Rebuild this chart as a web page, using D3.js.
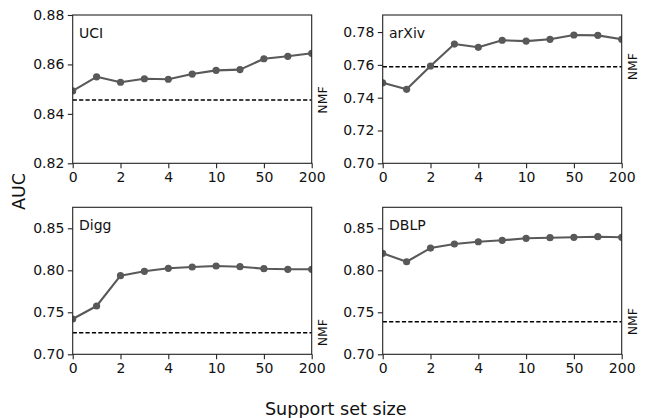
<!DOCTYPE html>
<html>
<head>
<meta charset="utf-8">
<script src="https://cdn.jsdelivr.net/npm/d3@7"></script>
<style>
  html, body { margin: 0; padding: 0; background: #fff; }
  svg { display: block; font-family: "DejaVu Sans", sans-serif; }
</style>
</head>
<body>
<svg id="chart" width="646" height="418"></svg>
<script>
// ---- data ----
const supportSizes = ["0", "1", "2", "3", "4", "5", "10", "20", "50", "100", "200"];
const shownTickLabels = ["0", "2", "4", "10", "50", "200"];
const datasets = ["UCI", "arXiv", "Digg", "DBLP"];
const uciAUC   = [0.8493, 0.8550, 0.8528, 0.8542, 0.8540, 0.8561, 0.8576, 0.8579, 0.8623, 0.8633, 0.8645];
const arxivAUC = [0.7491, 0.7451, 0.7593, 0.7727, 0.7707, 0.7750, 0.7745, 0.7756, 0.7782, 0.7780, 0.7756];
const diggAUC  = [0.7420, 0.7575, 0.7936, 0.7988, 0.8024, 0.8039, 0.8051, 0.8043, 0.8019, 0.8012, 0.8012];
const dblpAUC  = [0.8202, 0.8102, 0.8265, 0.8313, 0.8340, 0.8357, 0.8381, 0.8388, 0.8393, 0.8400, 0.8393];
const nmfAUC   = [0.8456, 0.7589, 0.7257, 0.7388];
const uciTicks   = [0.82, 0.84, 0.86, 0.88];
const arxivTicks = [0.70, 0.72, 0.74, 0.76, 0.78];
const diggTicks  = [0.70, 0.75, 0.80, 0.85];
const dblpTicks  = [0.70, 0.75, 0.80, 0.85];

// ---- layout ----
const svg = d3.select("#chart");
const panels = [
  { name: datasets[0], values: uciAUC,   nmf: nmfAUC[0], ticks: uciTicks,   domain: [0.82, 0.88],  x0: 72.7,  x1: 311.7, y0: 15,    y1: 163.3 },
  { name: datasets[1], values: arxivAUC, nmf: nmfAUC[1], ticks: arxivTicks, domain: [0.70, 0.7904], x0: 382.7, x1: 621.7, y0: 15,    y1: 163.3 },
  { name: datasets[2], values: diggAUC,  nmf: nmfAUC[2], ticks: diggTicks,  domain: [0.70, 0.875], x0: 72.7,  x1: 311.7, y0: 207.3, y1: 354.3 },
  { name: datasets[3], values: dblpAUC,  nmf: nmfAUC[3], ticks: dblpTicks,  domain: [0.70, 0.875], x0: 382.7, x1: 621.7, y0: 207.3, y1: 354.3 }
];

const lineColor = "#595959";
const axisColor = "#222";
const fmt = d3.format(".2f");

panels.forEach((p, i) => {
  const x = d3.scalePoint().domain(supportSizes).range([p.x0, p.x1]).padding(0);
  const y = d3.scaleLinear().domain(p.domain).range([p.y1, p.y0]);
  const g = svg.append("g");

  const clipId = "clip" + i;
  svg.append("clipPath").attr("id", clipId)
    .append("rect").attr("x", p.x0).attr("y", p.y0)
    .attr("width", p.x1 - p.x0).attr("height", p.y1 - p.y0);

  const plot = g.append("g").attr("clip-path", `url(#${clipId})`);

  // NMF baseline
  plot.append("line")
    .attr("x1", p.x0).attr("x2", p.x1)
    .attr("y1", y(p.nmf)).attr("y2", y(p.nmf))
    .attr("stroke", "#000").attr("stroke-width", 1.4)
    .attr("stroke-dasharray", "4.2,2.2");

  // series line
  const line = d3.line().x((d, j) => x(supportSizes[j])).y(d => y(d));
  plot.append("path").datum(p.values)
    .attr("d", line).attr("fill", "none")
    .attr("stroke", lineColor).attr("stroke-width", 2.1)
    .attr("stroke-linejoin", "round");

  plot.selectAll("circle").data(p.values).enter().append("circle")
    .attr("cx", (d, j) => x(supportSizes[j])).attr("cy", d => y(d))
    .attr("r", 3.6).attr("fill", lineColor);

  // axes
  const xAxis = d3.axisBottom(x)
    .tickValues(supportSizes.filter(s => shownTickLabels.includes(s) && supportSizes.indexOf(s) % 2 === 0))
    .tickSize(4.9).tickPadding(3.5);
  const gx = g.append("g").attr("transform", `translate(0,${p.y1})`).call(xAxis);

  const yAxis = d3.axisLeft(y).tickValues(p.ticks).tickFormat(fmt).tickSize(4.9).tickPadding(3.5);
  const gy = g.append("g").attr("transform", `translate(${p.x0},0)`).call(yAxis);

  [gx, gy].forEach(ax => {
    ax.select(".domain").remove();
    ax.selectAll(".tick line").attr("stroke", axisColor).attr("stroke-width", 1.1);
    ax.selectAll(".tick text").attr("fill", "#111")
      .style("font-size", "14px").style("font-family", "'DejaVu Sans', sans-serif");
  });

  // frame
  g.append("rect")
    .attr("x", p.x0).attr("y", p.y0)
    .attr("width", p.x1 - p.x0).attr("height", p.y1 - p.y0)
    .attr("fill", "none").attr("stroke", axisColor).attr("stroke-width", 1.1);

  // panel label
  g.append("text")
    .attr("x", p.x0 + 6.3).attr("y", p.y0 + 23)
    .style("font-size", "14px").attr("fill", "#111")
    .text(p.name);

  // NMF label
  g.append("text")
    .attr("transform", `translate(${p.x1 + 15.5},${y(p.nmf)}) rotate(-90)`)
    .attr("text-anchor", "middle")
    .style("font-size", "12.5px").attr("fill", "#111")
    .text("NMF");
});

// shared labels
svg.append("text")
  .attr("transform", "translate(25,191.5) rotate(-90)")
  .attr("text-anchor", "middle")
  .style("font-size", "17.6px").attr("fill", "#111")
  .text("AUC");

svg.append("text")
  .attr("x", 335.8).attr("y", 414.5)
  .attr("text-anchor", "middle")
  .style("font-size", "17.6px").attr("fill", "#111")
  .text("Support set size");
</script>
</body>
</html>
